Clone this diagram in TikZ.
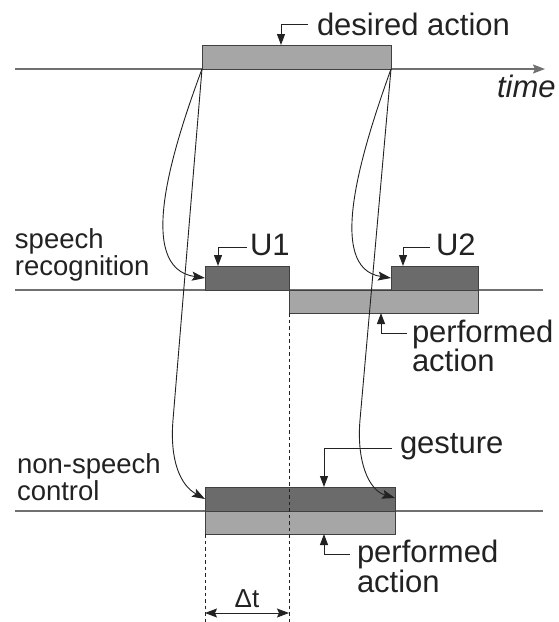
\documentclass[tikz,border=0pt]{standalone}
\usepackage{fontspec}
\setmainfont{Liberation Sans}
\usetikzlibrary{arrows.meta,calc}
\definecolor{lightg}{HTML}{A6A6A6}
\definecolor{darkg}{HTML}{6B6B6B}
\definecolor{edgeg}{HTML}{404040}
\definecolor{axisg}{HTML}{707070}
\definecolor{ink}{HTML}{222222}
\tikzset{
  lbl/.style={inner sep=0pt, outer sep=0pt, anchor=base west, text=ink, font=\fontsize{31}{34}\selectfont},
  sidelbl/.style={inner sep=0pt, outer sep=0pt, anchor=base west, text=ink, font=\fontsize{27.5}{30}\selectfont},
  bx/.style={draw=edgeg, line width=1pt, inner sep=0pt, outer sep=0pt, minimum width=#1},
  lightbox/.style={bx=#1, fill=lightg},
  darkbox/.style={bx=#1, fill=darkg},
  axisline/.style={draw=axisg, line width=1.5pt},
  conn/.style={draw=ink, line width=0.9pt, -{Stealth[length=13pt,width=9pt,inset=2.5pt]}},
  lead/.style={draw=ink, line width=1pt, -{Triangle[length=11pt,width=8pt]}},
  dsh/.style={draw=ink, line width=0.8pt, dash pattern=on 3.5pt off 3pt},
  dim/.style={draw=ink, line width=1pt, {Stealth[length=12pt,width=9pt,inset=2pt]}-{Stealth[length=12pt,width=9pt,inset=2pt]}}
}
\begin{document}
\begin{tikzpicture}[x=1pt,y=-1pt]
\useasboundingbox (0,0) rectangle (558,622);
% axes
\coordinate (ta) at (15,69);
\coordinate (tb) at (545,69);
\coordinate (sa) at (15,290);
\coordinate (sb) at (543,290);
\coordinate (na) at (15,511);
\coordinate (nb) at (543,511);
\draw[axisline, -{Stealth[length=12pt,width=9pt,inset=2pt]}] (ta) -- (tb);
\draw[axisline] (sa) -- (sb);
\draw[axisline] (na) -- (nb);
% boxes
\node[lightbox=189pt, minimum height=24pt] (des) at (296.5,57) {};
\node[darkbox=84pt, minimum height=24pt] (u1) at (247,278) {};
\node[lightbox=189pt, minimum height=23pt] (pa1) at (383.5,301.5) {};
\node[darkbox=87pt, minimum height=24pt] (u2) at (434.5,278) {};
\node[darkbox=190pt, minimum height=24pt] (gest) at (300,499) {};
\node[lightbox=190pt, minimum height=23pt] (pa2) at (300,522.5) {};
% connectors from desired action
\draw[conn] (des.south west) .. controls (172,150) and (135,268) .. (u1.west);
\draw[conn] (des.south east) .. controls (362,150) and (325,268) .. (u2.west);
\draw[conn] (des.south west) -- (173,420) .. controls (169.7,460) and (180,485) .. (gest.west);
\draw[conn] (des.south east) -- (360,420) .. controls (356.5,460) and (368,490) .. ([yshift=1pt]gest.east);
% dashed guides
\coordinate (b1) at (289,622);
\coordinate (b2) at (205,622);
\draw[dsh] (pa1.south west) -- (b1);
\draw[dsh] (pa2.south west) -- (b2);
\coordinate (dA) at (205,613);
\coordinate (dB) at (289,613);
\draw[dim] (dA) -- (dB);
\node[inner sep=0pt, anchor=base, text=ink, font=\fontsize{26}{28}\selectfont] (dt) at (247,607) {Δt};
% labels
\node[lbl] (dlab) at (317,35) {desired action};
\node[lbl, font=\fontsize{31}{34}\selectfont\itshape] (tlab) at (497,97) {time};
\node[lbl] (u1lab) at (250,255) {U1};
\node[lbl] (u2lab) at (436,255) {U2};
\node[lbl] (p1lab) at (412,342) {performed};
\node[lbl] (p1lab2) at (412,371) {action};
\node[lbl] (glab) at (400,453) {gesture};
\node[lbl] (p2lab) at (357,562) {performed};
\node[lbl] (p2lab2) at (357,592) {action};
\node[sidelbl] (sr1) at (15,248) {speech};
\node[sidelbl] (sr2) at (15,275) {recognition};
\node[sidelbl] (nc1) at (17,473) {non-speech};
\node[sidelbl] (nc2) at (17,500) {control};
% leaders
\draw[lead] ([shift={(-9pt,11pt)}]dlab.base west) -| ([xshift=79pt]des.north west);
\draw[lead] ([shift={(-3pt,8pt)}]u1lab.base west) -| ([xshift=13pt]u1.north west);
\draw[lead] ([shift={(-6pt,8pt)}]u2lab.base west) -| ([xshift=12pt]u2.north west);
\draw[lead] ([shift={(-5pt,9pt)}]p1lab.base west) -| ([xshift=92pt]pa1.south west);
\draw[lead] ([shift={(-8pt,5pt)}]glab.base west) -| ([xshift=119pt]gest.north west);
\draw[lead] ([shift={(-7pt,8pt)}]p2lab.base west) -| ([xshift=119pt]pa2.south west);
\end{tikzpicture}
\end{document}
